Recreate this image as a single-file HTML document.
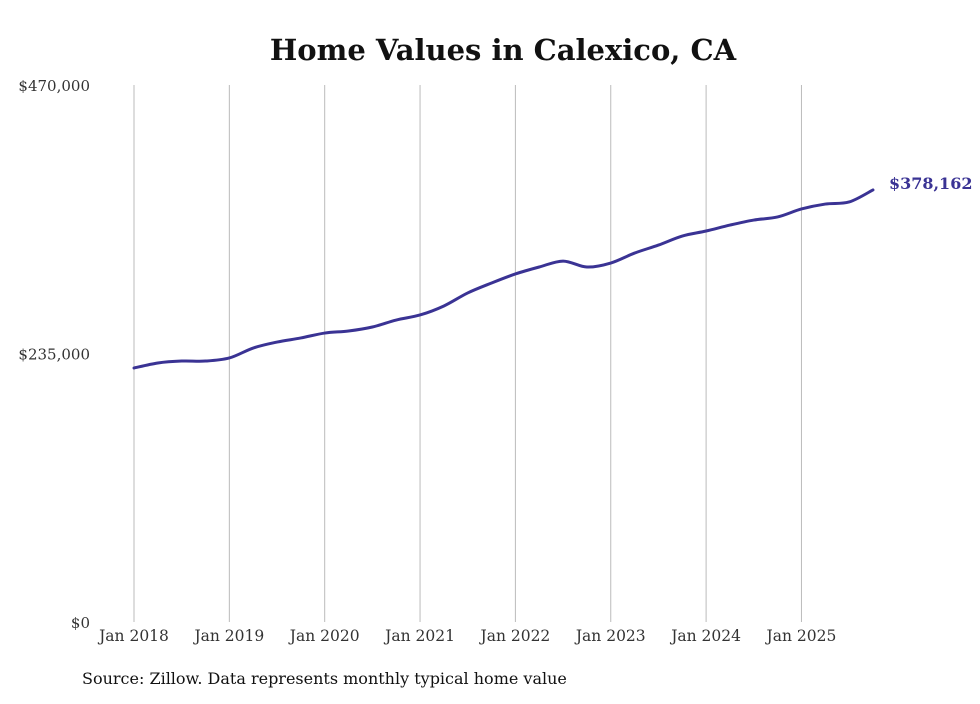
<!DOCTYPE html>
<html><head><meta charset="utf-8"><style>
body{margin:0;background:#fff;}
svg text{font-family:"DejaVu Serif","Liberation Serif",serif;}
</style></head><body>
<svg id="chart" width="980" height="699" xmlns="http://www.w3.org/2000/svg">
<text x="503" y="60" text-anchor="middle" font-size="29" font-weight="bold" fill="#111">Home Values in Calexico, CA</text>
<g id="grid"></g><g id="yaxis"></g><g id="xaxis"></g><g id="series"></g>
<text x="82" y="684" font-size="16" fill="#111">Source: Zillow. Data represents monthly typical home value</text>
</svg>
<script>
const monthIdx=[0,3,6,9,12,15,18,21,24,27,30,33,36,39,42,45,48,51,54,57,60,63,66,69,72,75,78,81,84,87,90,93];
const values=[222300,226700,228400,228400,231100,239800,245000,248600,252900,254700,258200,264300,268700,276600,288000,296700,304600,310700,315900,310700,314200,322900,329900,337800,342200,347400,351800,354500,361500,365800,367600,378162];
const yTicks=[0,235000,470000];
const yTickLabels=["$0","$235,000","$470,000"];
const xTickLabels=["Jan 2018","Jan 2019","Jan 2020","Jan 2021","Jan 2022","Jan 2023","Jan 2024","Jan 2025"];
const xTickMonths=[0,12,24,36,48,60,72,84];
const lastLabel="$378,162";
const NS="http://www.w3.org/2000/svg";
const x=m=>134+m*(95.35/12);
const y=v=>622-v/470000*537;
function mk(tag,attrs,parent,txt){const e=document.createElementNS(NS,tag);for(const k in attrs)e.setAttribute(k,attrs[k]);if(txt!=null)e.textContent=txt;document.getElementById(parent).appendChild(e);return e;}
xTickMonths.forEach((m,i)=>{
 const l=mk('line',{x1:x(m),x2:x(m),y1:85,y2:622,stroke:'#bbb','stroke-width':1},'grid');
 
 
 const t=mk('text',{x:x(m),y:641,'text-anchor':'middle','font-size':15.5,fill:'#333'},'xaxis',xTickLabels[i]);
 
 
});
yTicks.forEach((v,i)=>{
 const t=mk('text',{x:90,y:y(v)+6,'text-anchor':'end','font-size':15,fill:'#333'},'yaxis',yTickLabels[i]);
 
 
});
const pts=monthIdx.map((m,i)=>[x(m),y(values[i])]);
let d='M'+pts[0][0]+','+pts[0][1];
for(let i=0;i<pts.length-1;i++){
 const p0=pts[Math.max(0,i-1)],p1=pts[i],p2=pts[i+1],p3=pts[Math.min(pts.length-1,i+2)];
 const c1=[p1[0]+(p2[0]-p0[0])/6,p1[1]+(p2[1]-p0[1])/6],c2=[p2[0]-(p3[0]-p1[0])/6,p2[1]-(p3[1]-p1[1])/6];
 d+=`C${c1[0]},${c1[1]} ${c2[0]},${c2[1]} ${p2[0]},${p2[1]}`;
}
const path=mk('path',{d:d,fill:'none',stroke:'#3a3394','stroke-width':3,'stroke-linecap':'round'},'series');


const last=pts[pts.length-1];
const lab=mk('text',{x:last[0]+16,y:last[1]-1,'font-size':16,'font-weight':'bold',fill:'#3a3394'},'series',lastLabel);


</script>
</body></html>
